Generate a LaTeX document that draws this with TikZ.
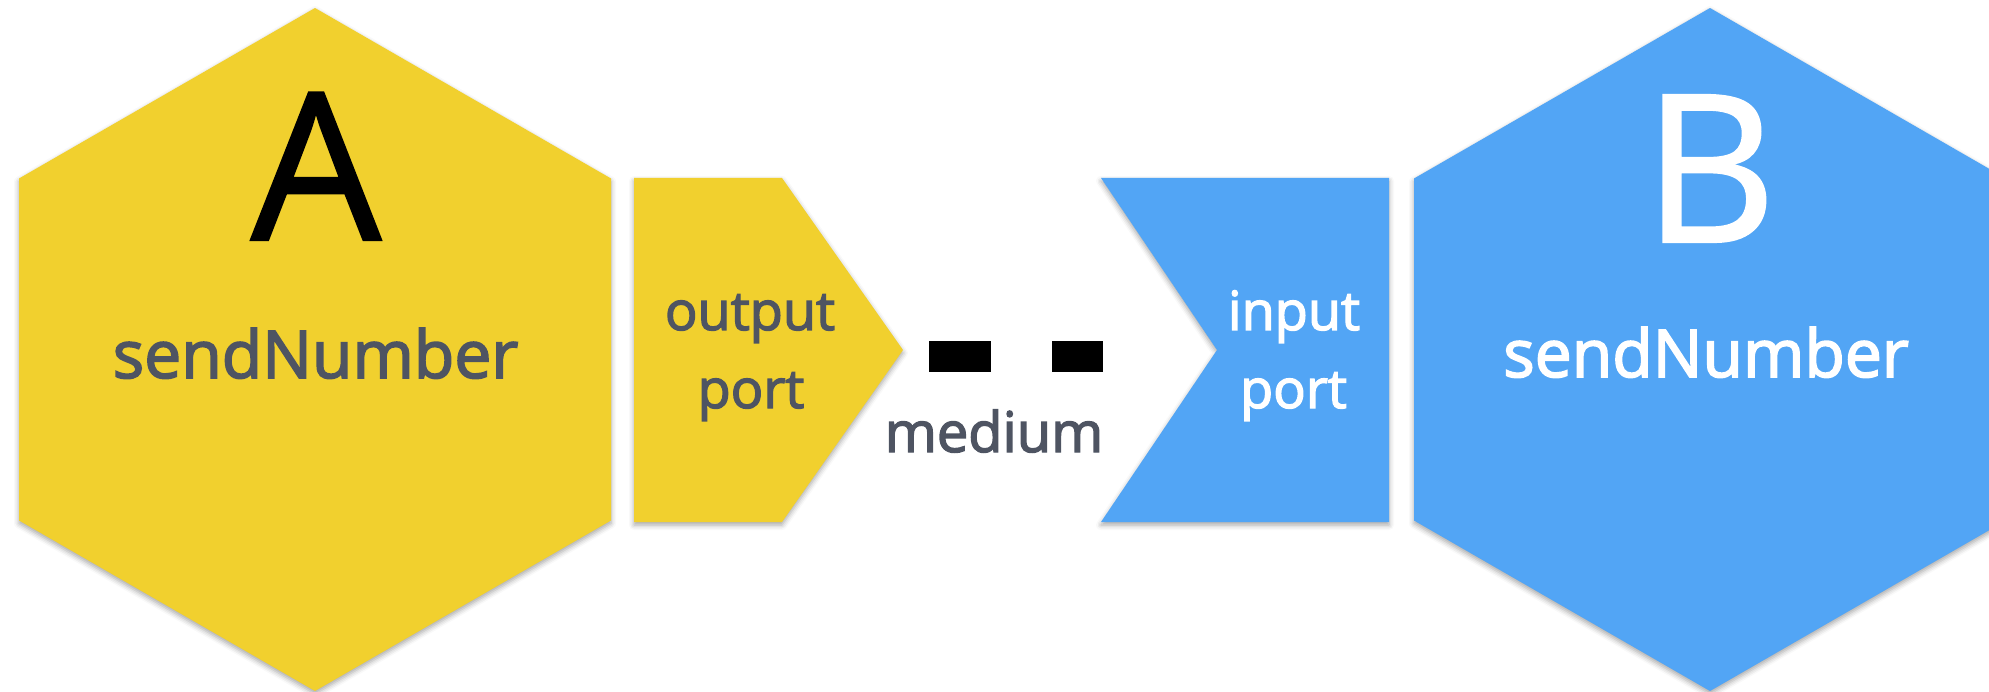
\documentclass[tikz,border=0pt]{standalone}
\usepackage{fontspec}
\setmainfont{Open Sans}
\newfontfamily\labelfont{Open Sans}[FakeBold=2.5]
\newfontfamily\letterfont{Open Sans}[FakeBold=1]
\usetikzlibrary{shadows.blur}
\definecolor{hexyellow}{RGB}{241,208,46}
\definecolor{hexblue}{RGB}{82,165,245}
\definecolor{labelgray}{RGB}{78,84,98}
\begin{document}
\begin{tikzpicture}[x=1pt,y=-1pt,
  softshadow/.style={blur shadow={shadow xshift=0pt, shadow yshift=-3pt, shadow blur radius=5pt, shadow opacity=35}},
  yellowshape/.style={fill=hexyellow, softshadow},
  blueshape/.style={fill=hexblue, softshadow},
  bigletter/.style={anchor=base, inner sep=0pt, font=\letterfont\fontsize{206}{206}\selectfont},
  hexlabel/.style={anchor=base, inner sep=0pt, font=\labelfont\fontsize{66}{66}\selectfont},
  portlabel/.style={anchor=base, inner sep=0pt, font=\labelfont\fontsize{54}{54}\selectfont},
  mediumlabel/.style={anchor=base, inner sep=0pt, font=\labelfont\fontsize{56}{56}\selectfont, text=labelgray},
  mediumline/.style={line width=31pt, black, dash pattern=on 62pt off 61pt}]
\useasboundingbox (0,0) rectangle (1989,692);
\clip (0,0) rectangle (1989,692);
% hexagon A
\path[yellowshape] (315,8) -- (611,178.5) -- (611,520.5) -- (315,691) -- (19,520.5) -- (19,178.5) -- cycle;
% output port
\coordinate (outtip) at (903,350);
\path[yellowshape] (634,178) -- (782,178) -- (outtip) -- (782,522) -- (634,522) -- cycle;
% input port
\coordinate (innotch) at (1217,350);
\path[blueshape] (1101,178) -- (1389,178) -- (1389,522) -- (1101,522) -- (innotch) -- cycle;
% hexagon B
\path[blueshape] (1710,8) -- (2006,178.5) -- (2006,520.5) -- (1710,691) -- (1414,520.5) -- (1414,178.5) -- cycle;
% labels
\node[bigletter, text=black] (letA) at (316,240) {A};
\node[hexlabel, text=labelgray] (nameA) at (315.5,378) {sendNumber};
\node[portlabel, text=labelgray] (outlbl1) at (750,330) {output};
\node[portlabel, text=labelgray] (outlbl2) at (751,408) {port};
\node[portlabel, text=white] (inlbl1) at (1294,330) {input};
\node[portlabel, text=white] (inlbl2) at (1293.5,408) {port};
\node[bigletter, text=white] (letB) at (1710,242) {B};
\node[hexlabel, text=white] (nameB) at (1706,377) {sendNumber};
% medium
\coordinate (mstart) at (929,356.5);
\coordinate (mend) at (1103,356.5);
\draw[mediumline] (mstart) -- (mend);
\node[mediumlabel] (medlbl) at (994,452) {medium};
\end{tikzpicture}
\end{document}
